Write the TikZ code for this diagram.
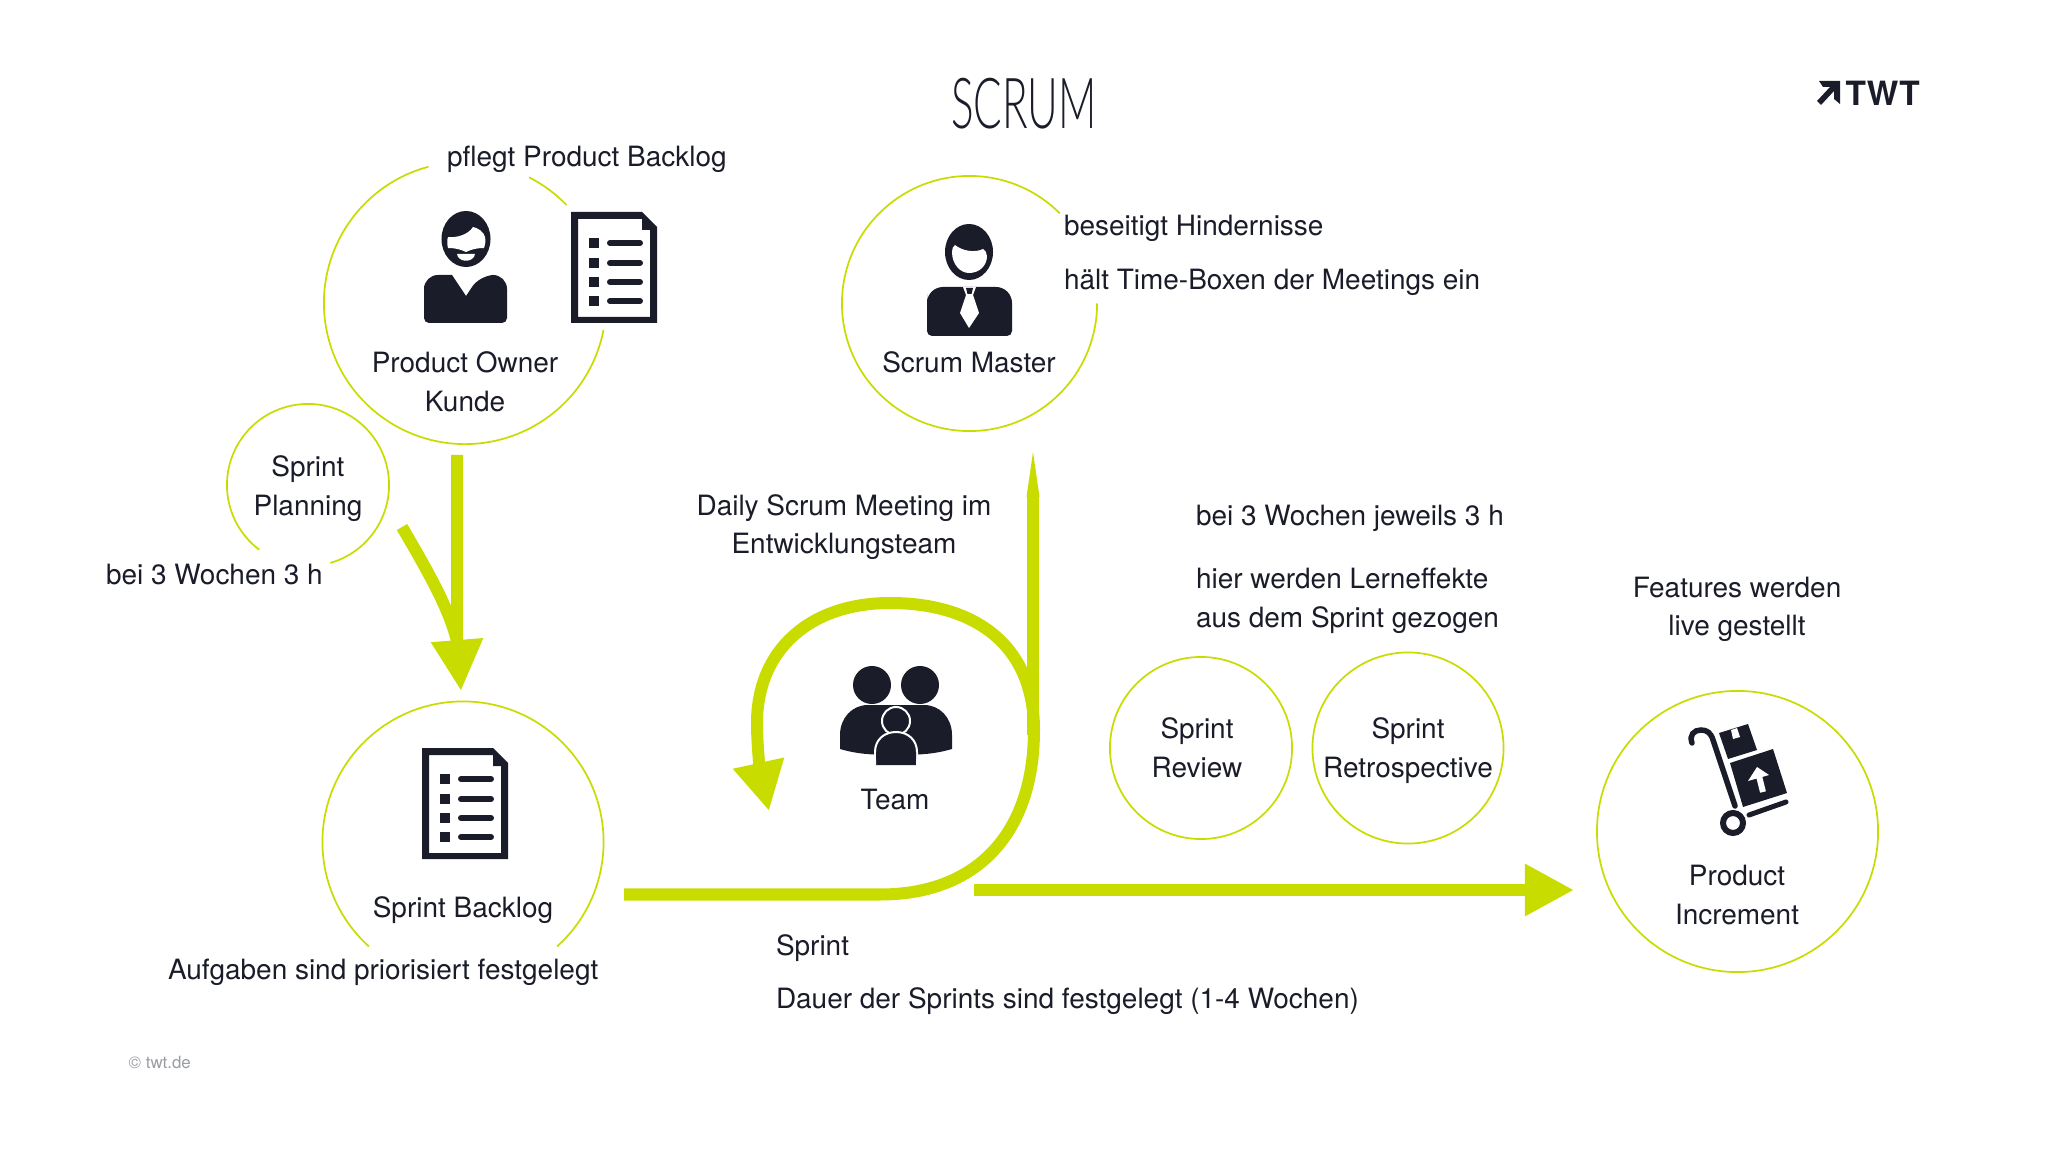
\documentclass[tikz,border=0pt]{standalone}
\usepackage{fontspec}
\setmainfont{TeX Gyre Heros}
\newfontfamily\titlefont{Lato Light}
\usepackage{xcolor}
\usetikzlibrary{arrows.meta,calc,positioning}
\definecolor{limegreen}{HTML}{C8DC00}
\definecolor{ink}{HTML}{1A1D29}
\definecolor{footgray}{HTML}{9A9DA3}
\newcommand{\RingArc}[4]{\draw[ringline] (#1.#2) arc[start angle=#2,end angle=#3,radius=#4];}
\newcommand{\DocIcon}[1]{%
  \begin{scope}[shift={#1}]
    \fill[ink,even odd rule] (0,0) -- (71,0) -- (86,15) -- (86,111) -- (0,111) -- cycle
      (7,7) -- (71,7) -- (71,18) -- (79,18) -- (79,105) -- (7,105) -- cycle;
    \foreach \rowy in {31,51,70,89} {
      \fill[ink] (18,\rowy-5) rectangle +(10,10);
      \draw[ink,line width=0.6mm,line cap=round] (39,\rowy) -- (69,\rowy);
    }
  \end{scope}}

\begin{document}
\begin{tikzpicture}[x=0.01cm,y=-0.01cm,>=Latex,
    ringnode/.style={circle,inner sep=0pt,outer sep=0pt},
    ringline/.style={draw=limegreen,line width=0.17mm},
    ringfull/.style={ringnode,draw=limegreen,line width=0.17mm},
    limearrow/.style={draw=limegreen,line width=1.2mm},
    label/.style={inner sep=0pt,outer sep=0pt,text=ink,font=\fontsize{7.95}{10.9}\selectfont,anchor=base,align=center},
    leftlabel/.style={label,anchor=base west,align=left}]
  \path[use as bounding box,fill=white] (0,0) rectangle (2048,1152);

  \node[inner sep=0pt,text=ink,font=\fontsize{20}{24}\titlefont] (title) at (1024,104) {\scalebox{0.6}[1]{SCRUM}};
  \node[inner sep=0pt,anchor=base west,text=ink,font=\fontsize{9.5}{11}\selectfont\bfseries] (logo) at (1845,106) {TWT};
  \fill[ink] (1819,81) -- (1840,81) -- (1840,104) -- (1834,99) -- (1834,91) -- (1821,105) -- (1817,101) -- (1830,87) -- (1823,87) -- cycle;
  \node[inner sep=0pt,anchor=base west,text=footgray,font=\fontsize{4.8}{5}\selectfont] (foot) at (128,1068) {© twt.de};

  \node[ringnode,minimum size=2.82cm] (owner) at (465,303) {};
  \node[ringnode,minimum size=2.55cm] (master) at (969.5,303.5) {};
  \node[ringnode,minimum size=1.62cm] (planning) at (308,485) {};
  \node[ringnode,minimum size=2.81cm] (backlog) at (463,842) {};
  \node[ringfull,minimum size=1.82cm] (review) at (1201,748) {};
  \node[ringfull,minimum size=1.91cm] (retro) at (1408,748) {};
  \node[ringfull,minimum size=2.81cm] (increment) at (1737.5,831.5) {};
  \RingArc{owner}{105}{349}{1.41cm}
  \RingArc{owner}{44}{63}{1.41cm}
  \RingArc{master}{45}{360}{1.275cm}
  \RingArc{planning}{-74}{233}{0.81cm}
  \RingArc{backlog}{-48}{228}{1.405cm}

  \node[leftlabel] (ownertask) at (447,167) {pflegt Product Backlog};
  \node[label] (ownername) at (465,412) {Product Owner\\[0.4pt]Kunde};
  \node[label] (planningname) at (308,515) {Sprint\\Planning};
  \node[leftlabel] (planningtime) at (106,584) {bei 3 Wochen 3 h};
  \node[label] (mastername) at (969,373) {Scrum Master};
  \node[leftlabel] (mastertaska) at (1064,236) {beseitigt Hindernisse};
  \node[leftlabel] (mastertaskb) at (1064,290) {hält Time-Boxen der Meetings ein};
  \node[label] (daily) at (844,554) {Daily Scrum Meeting im\\Entwicklungsteam};
  \node[leftlabel] (retrotime) at (1196,525) {bei 3 Wochen jeweils 3 h};
  \node[leftlabel] (retrotext) at (1196,627) {hier werden Lerneffekte\\aus dem Sprint gezogen};
  \node[label] (features) at (1737,636) {Features werden\\live gestellt};
  \node[label] (reviewname) at (1197,777) {Sprint\\Review};
  \node[label] (retroname) at (1408,777) {Sprint\\Retrospective};
  \node[label] (incrementname) at (1737,924) {Product\\Increment};
  \node[label] (teamname) at (895,809) {Team};
  \node[label] (backlogname) at (463,917) {Sprint Backlog};
  \node[leftlabel] (backlogtask) at (168,979) {Aufgaben sind priorisiert festgelegt};
  \node[leftlabel] (sprintname) at (776,955) {Sprint};
  \node[leftlabel] (sprinttime) at (776,1008) {Dauer der Sprints sind festgelegt (1-4 Wochen)};

  \coordinate (ownerout) at (457,455);
  \coordinate (planningout) at (402,527);
  \coordinate (backlogin) at (461,691);
  \coordinate (backlogout) at (624,894.5);
  \coordinate (loopend) at (769,811);
  \coordinate (dailyfoot) at (1033,735);
  \coordinate (dailyneck) at (1033,497);
  \coordinate (mastertip) at (1033,452);
  \coordinate (sprintout) at (974,890);
  \coordinate (incrementin) at (1574,890);
  \draw[limearrow] (planningout) .. controls (430,575) and (450,610) .. (458,645);
  \draw[limearrow,-{Triangle[length=5.1mm,width=4.9mm]}] (ownerout) -- (457,640) -- (backlogin);
  \draw[limearrow,-{Triangle[length=4.9mm,width=4.9mm]}] (backlogout) -- (880,894.5)
    .. controls (980,894.5) and (1034,830) .. (1034,730)
    .. controls (1034,645) and (975,603) .. (890,603)
    .. controls (810,603) and (757,650) .. (757,723)
    .. controls (757,745) and (760,770) .. (loopend);
  \draw[limearrow] (dailyfoot) -- (dailyneck);
  \fill[limegreen] ([xshift=-0.65mm]dailyneck) -- (mastertip) -- ([xshift=0.65mm]dailyneck) -- cycle;
  \draw[limearrow,-{Triangle[length=4.9mm,width=4.9mm]}] (sprintout) -- (incrementin);

  % owner
  \fill[ink] (466,239) ellipse [x radius=0.245cm,y radius=0.28cm];
  \fill[white] (448,237) .. controls (456,238) and (468,235) .. (473,227) .. controls (478,228) and (484,232) .. (485,237) .. controls (486,241) and (485,245) .. (484,248) .. controls (478,248) and (472,249) .. (466,252) .. controls (460,249) and (454,248) .. (448,248) .. controls (447,244) and (447,240) .. (448,237) -- cycle;
  \fill[white] (457,254) -- (475,254) .. controls (474,263) and (458,263) .. (457,254) -- cycle;
  \fill[ink] [rounded corners=0.5mm] (424,300) -- (424,323) -- (507,323) -- (507,300) [rounded corners=1.4mm] -- (507,275) -- (480,275) [sharp corners] -- (466,296) -- (452,275) [rounded corners=1.4mm] -- (424,275) -- cycle;
  \DocIcon{(571,212)}
  \DocIcon{(422,748)}

  % master
  \fill[ink] (969,252) ellipse [x radius=0.24cm,y radius=0.28cm];
  \fill[white] (952,252) .. controls (952,249) and (953,246) .. (955,245) .. controls (962,251) and (975,253) .. (983,249) .. controls (985,250) and (987,253) .. (987,256) .. controls (987,266) and (979,273) .. (969,273) .. controls (960,273) and (952,264) .. (952,252) -- cycle;
  \fill[ink] [rounded corners=0.5mm] (927,310) -- (927,336) -- (1012,336) -- (1012,310) [rounded corners=1.6mm] -- (1012,287) -- (927,287) -- cycle;
  \fill[white] (963,287) -- (976,287) -- (973,295) -- (979,313) -- (969,328) -- (960,313) -- (966,295) -- cycle;
  \fill[ink] (966,288) -- (973,288) -- (971.5,294) -- (967.5,294) -- cycle;

  % team
  \fill[ink] (872,685) circle[radius=0.19cm] (920,685) circle[radius=0.19cm];
  \fill[ink] (840,749) -- (840,735) .. controls (840,718) and (852,705) .. (868,705) -- (924,705) .. controls (940,705) and (952,718) .. (952,735) -- (952,749) .. controls (935,754) and (920,755) .. (896,755) .. controls (872,755) and (857,754) .. (840,749) -- cycle;
  \draw[ink,fill=ink,draw=white,line width=0.2mm] (896,721) circle[radius=0.14cm];
  \draw[fill=ink,draw=white,line width=0.2mm] (875,765) -- (875,752) .. controls (875,740) and (884,732) .. (896,732) .. controls (908,732) and (917,740) .. (917,752) -- (917,765);
  \fill[ink] (876,759) .. controls (888,763) and (904,763) .. (916,759) -- (916,752) -- (876,752) -- cycle;
  \fill[white] (870,758) rectangle (875,770) (917,758) rectangle (922,770);

  % trolley
  \draw[ink,line width=0.55mm,line cap=round] (1692,743) .. controls (1689,735) and (1694,730) .. (1701,730) .. controls (1707,730) and (1711,733) .. (1713,740) -- (1735,806);
  \draw[ink,line width=0.6mm] (1733,823) circle[radius=0.1cm];
  \draw[ink,line width=0.5mm,line cap=round] (1749,815) -- (1786,802);
  \fill[ink] (1730,763) -- (1773,749) -- (1787,793) -- (1743,807) -- cycle;
  \fill[ink] (1719,733) -- (1748,724) -- (1757,750) -- (1728,759) -- cycle;
  \fill[white] (1731,730) -- (1737,728) -- (1740,737) -- (1733,739) -- cycle;
  \draw[white,line width=0.6mm] (1763,792) -- (1758,772);
  \fill[white] (1757,767) -- (1769,775) -- (1748,781) -- cycle;
\end{tikzpicture}
\end{document}
